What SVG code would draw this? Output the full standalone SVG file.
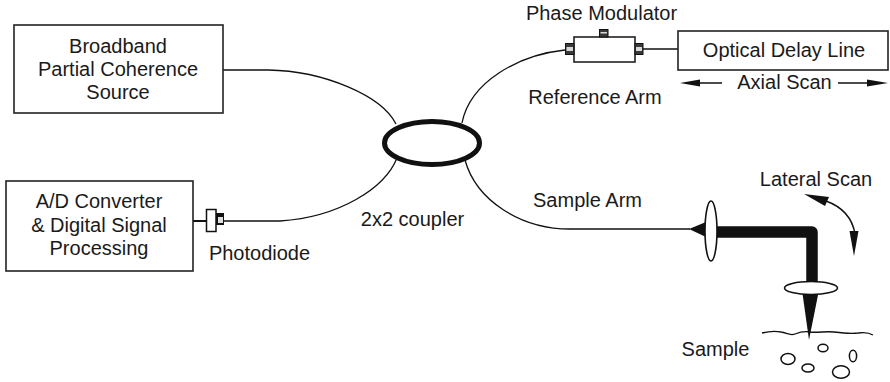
<svg xmlns="http://www.w3.org/2000/svg" width="890" height="382" viewBox="0 0 890 382">
  <style>
    text { font-family: "Liberation Sans", Arial, sans-serif; font-size: 20px; fill: #1a1a1a; }
    .c { text-anchor: middle; }
    .box { fill: #fff; stroke: #222; stroke-width: 1.6; }
    .fiber { fill: none; stroke: #111; stroke-width: 1.3; }
    .conn { fill: #3a3a3a; stroke: #111; stroke-width: 1; }
    .conn-in { fill: #d8d8d8; stroke: none; }
    .optic { fill: #fff; stroke: #111; stroke-width: 1.6; }
    .solid { fill: #111; stroke: none; }
  </style>

  <!-- fibre connectors -->
  <g id="connectors">
    <path class="fiber" d="M223,70 H268 C325,71 382,96 396,124"/>
    <path class="fiber" d="M224,221 H280 C340,217 385,188 397,158"/>
    <path class="fiber" d="M462,123 C470,82 518,55 565,50"/>
    <path class="fiber" d="M465,160 C476,200 520,229 570,229 H690"/>
    <line class="fiber" x1="643" y1="49" x2="678" y2="49"/>
    <line x1="193" y1="221" x2="206" y2="221" stroke="#111" stroke-width="2"/>
  </g>

  <g id="source">
    <rect class="box" x="14" y="25" width="209" height="88"/>
    <text class="c" x="118" y="53">Broadband</text>
    <text class="c" x="118" y="76">Partial Coherence</text>
    <text class="c" x="118" y="99">Source</text>
  </g>

  <g id="adc">
    <rect class="box" x="6" y="181" width="187" height="90"/>
    <text class="c" x="99" y="208">A/D Converter</text>
    <text class="c" x="99" y="232">&amp; Digital Signal</text>
    <text class="c" x="99" y="255">Processing</text>
  </g>

  <g id="photodiode">
    <rect x="206.5" y="209.5" width="9.5" height="22" fill="#fff" stroke="#111" stroke-width="1.5"/>
    <rect x="216" y="213" width="8" height="12" fill="#111"/>
    <rect x="218" y="217" width="5" height="6" fill="#e0e0e0"/>
    <text class="c" x="259.5" y="260">Photodiode</text>
  </g>

  <g id="coupler">
    <ellipse cx="432" cy="143" rx="47.5" ry="21.5" fill="none" stroke="#111" stroke-width="5"/>
    <text class="c" x="412.5" y="226">2x2 coupler</text>
  </g>

  <g id="phase-modulator">
    <rect class="box" x="574" y="37" width="61" height="25"/>
    <rect class="conn" x="565.5" y="43.5" width="8.5" height="11"/>
    <rect class="conn-in" x="566.5" y="47" width="6.5" height="4"/>
    <rect class="conn" x="635" y="43.5" width="8" height="11"/>
    <rect class="conn-in" x="636" y="47" width="6" height="4"/>
    <rect class="conn" x="599.5" y="29.5" width="8.5" height="7.5"/>
    <rect class="conn-in" x="600.5" y="32" width="6.5" height="1.5"/>
    <text class="c" x="601.5" y="20">Phase Modulator</text>
    <text class="c" x="595" y="104">Reference Arm</text>
  </g>

  <g id="delay-line">
    <rect class="box" x="678" y="31" width="210" height="39"/>
    <text class="c" x="784" y="57">Optical Delay Line</text>
    <line x1="698" y1="83" x2="722" y2="83" stroke="#111" stroke-width="1.5"/>
    <polygon class="solid" points="680,83 700,79.5 700,86.5"/>
    <line x1="838" y1="83" x2="870" y2="83" stroke="#111" stroke-width="1.5"/>
    <polygon class="solid" points="888,83 867,79.5 867,86.5"/>
    <text class="c" x="784.5" y="89">Axial Scan</text>
  </g>

  <g id="sample-arm">
    <text class="c" x="587.5" y="207">Sample Arm</text>
    <path d="M711,232 H812 V284" fill="none" stroke="#111" stroke-width="11.5" stroke-linejoin="round"/>
    <polygon class="solid" points="689,229 706,222 706,237"/>
    <ellipse class="optic" cx="711" cy="231" rx="6" ry="30"/>
    <polygon class="solid" points="802,290 819,290 809,340"/>
    <ellipse class="optic" cx="811" cy="288" rx="26.5" ry="6.5"/>
  </g>

  <g id="lateral-scan">
    <text class="c" x="816" y="186">Lateral Scan</text>
    <path d="M826,201 Q851,210 855,234" fill="none" stroke="#111" stroke-width="1.5"/>
    <polygon class="solid" points="804,194 829,197 825,206"/>
    <polygon class="solid" points="854,256 849.5,231 858.5,231"/>
  </g>

  <g id="sample">
    <text class="c" x="715.5" y="356">Sample</text>
    <path d="M762,333 C770,331 776,331 781,332 C787,333 790,336 795,334 C800,332 804,331 810,332 C818,333 826,331 834,332 C842,333 850,334 858,333 C864,332 868,332 873,335" fill="none" stroke="#111" stroke-width="1.3"/>
    <g fill="none" stroke="#111" stroke-width="1.5">
      <ellipse cx="788" cy="359" rx="7" ry="5.5"/>
      <ellipse cx="823" cy="348" rx="5" ry="3.8"/>
      <ellipse cx="853" cy="356" rx="3.6" ry="5.8"/>
      <ellipse cx="808" cy="368" rx="6" ry="4"/>
      <ellipse cx="841" cy="372" rx="8.5" ry="6.2"/>
    </g>
  </g>
</svg>
